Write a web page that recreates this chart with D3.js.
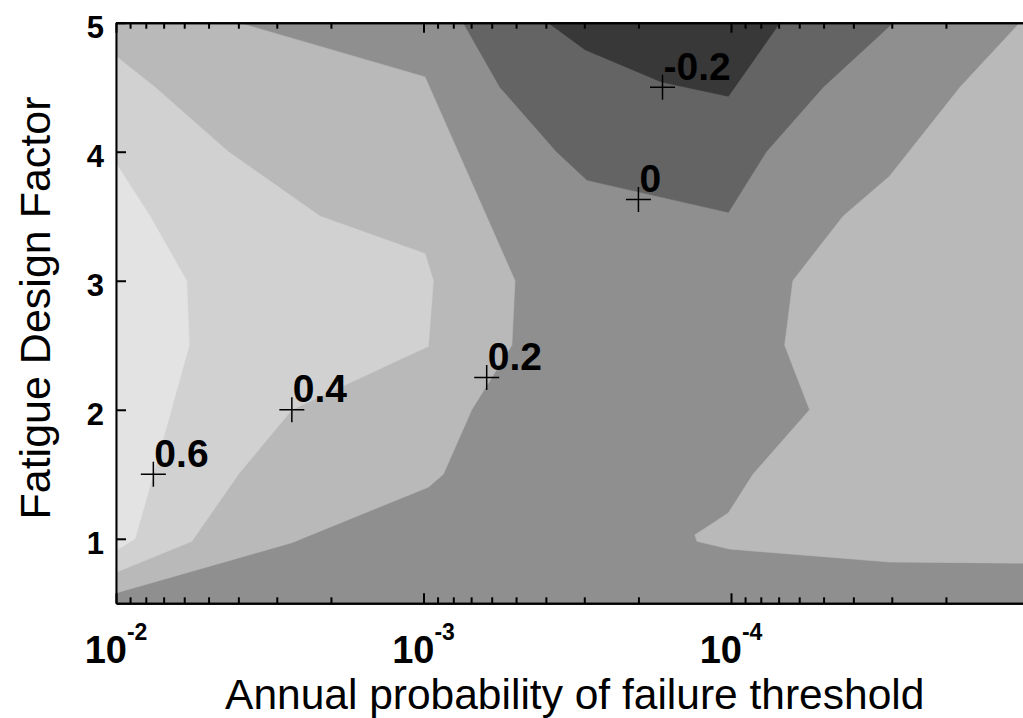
<!DOCTYPE html>
<html>
<head>
<meta charset="utf-8">
<script src="https://cdn.jsdelivr.net/npm/d3@7"></script>
<style>
  body { margin: 0; background: #fff; }
  svg { display: block; font-family: 'Liberation Sans', Arial, Helvetica, sans-serif; }
  .axis path, .axis line { stroke: #000; stroke-width: 2; }
</style>
</head>
<body>
<svg id="chart"></svg>
<script>
// axes
const xDomain = [1e-2, 1e-5]
const yDomain = [0.5, 5]
const xMajor = [1e-2, 1e-3, 1e-4]
const xExponents = ['-2', '-3', '-4']
const yTicks = [1, 2, 3, 4, 5]

// contour lines as [annual probability, fatigue design factor]
const c06 = [[1e-2, 3.91], [7.75e-3, 3.5], [5.89e-3, 3.0], [5.78e-3, 2.5], [7.56e-3, 1.5], [8.67e-3, 1.0], [1e-2, 0.91]]
const c04 = [[1e-2, 4.74], [7.47e-3, 4.5], [4.31e-3, 4.0], [2.17e-3, 3.5], [9.89e-4, 3.21], [9.29e-4, 3.0],
  [9.65e-4, 2.49], [9.89e-4, 2.48], [2.68e-3, 2.0], [4.0e-3, 1.5], [5.67e-3, 0.98], [1e-2, 0.74]]
const c02Left = [[4.0e-3, 5], [9.89e-4, 4.58], [5.04e-4, 3.0], [5.16e-4, 2.5], [6.97e-4, 2.0], [8.62e-4, 1.5],
  [9.65e-4, 1.4], [2.68e-3, 0.97], [1e-2, 0.58]]
const c02Right = [[1.15e-5, 5], [1.8e-5, 4.5], [3.05e-5, 3.81], [4.32e-5, 3.5], [6.29e-5, 3.0], [6.69e-5, 2.5],
  [5.55e-5, 2.0], [8.48e-5, 1.5], [1.02e-4, 1.2], [1.31e-4, 1.03], [1.29e-4, 0.98], [1.01e-4, 0.92],
  [3.05e-5, 0.82], [1e-5, 0.81]]
const c00 = [[7.42e-4, 5], [5.64e-4, 4.5], [3.69e-4, 4.0], [2.94e-4, 3.78], [1.02e-4, 3.53], [7.68e-5, 4.0],
  [5.02e-5, 4.5], [2.97e-5, 5]]
const cm02 = [[3.93e-4, 5], [2.98e-4, 4.79], [1.68e-4, 4.54], [1.02e-4, 4.43], [6.93e-5, 5]]

// contour labels
const labelText = ['0.6', '0.4', '0.2', '0', '-0.2']
const labelAt = [[7.56e-3, 1.5], [2.68e-3, 2.0], [6.23e-4, 2.25], [2.0e-4, 3.63], [1.67e-4, 4.5]]

const width = 1023
const height = 718
const margin = { top: 22.7, left: 116 }
const plotW = 922.5
const plotH = 580.6

const svg = d3.select('#chart')
  .attr('width', width)
  .attr('height', height)

const x = d3.scaleLog()
  .domain(xDomain)
  .range([margin.left, margin.left + plotW])

const y = d3.scaleLinear()
  .domain(yDomain)
  .range([margin.top + plotH, margin.top])

const [x0, x1] = xDomain
const [y0, y1] = yDomain

// filled bands, painted from the middle level outwards
const regions = [
  { fill: '#8f8f8f', pts: [[x0, y0], [x0, y1], [x1, y1], [x1, y0]] },
  { fill: '#b9b9b9', pts: [[x0, y1], ...c02Left] },
  { fill: '#b9b9b9', pts: [...c02Right, [x1, y1]] },
  { fill: '#d1d1d1', pts: c04 },
  { fill: '#e3e3e3', pts: c06 },
  { fill: '#646464', pts: c00 },
  { fill: '#383838', pts: cm02 }
]

const line = d3.line()
  .x(d => x(d[0]))
  .y(d => y(d[1]))

svg.append('g')
  .selectAll('path')
  .data(regions)
  .join('path')
  .attr('d', d => line(d.pts) + 'Z')
  .attr('fill', d => d.fill)
  .attr('stroke', d => d.fill)
  .attr('stroke-width', 0.6)

// axes with inward ticks
const isMajor = v => Math.abs(Math.log10(v) - Math.round(Math.log10(v))) < 1e-9
const xMinor = x.ticks().filter(v => !isMajor(v))

const axisB = svg.append('g')
  .attr('class', 'axis')
  .attr('transform', `translate(0, ${y(y0)})`)
axisB.append('g').call(d3.axisBottom(x).tickValues(xMinor).tickSize(-6).tickSizeOuter(0).tickFormat(''))
axisB.append('g').call(d3.axisBottom(x).tickValues(xMajor).tickSize(-10).tickSizeOuter(0).tickFormat(''))

const axisT = svg.append('g')
  .attr('class', 'axis')
  .attr('transform', `translate(0, ${y(y1)})`)
axisT.append('g').call(d3.axisTop(x).tickValues(xMinor).tickSize(-6).tickSizeOuter(0).tickFormat(''))
axisT.append('g').call(d3.axisTop(x).tickValues(xMajor).tickSize(-10).tickSizeOuter(0).tickFormat(''))

const axisL = svg.append('g')
  .attr('class', 'axis')
  .attr('transform', `translate(${x(x0)}, 0)`)
  .call(d3.axisLeft(y).tickValues(yTicks).tickSize(-10).tickSizeOuter(0).tickPadding(12).tickFormat(d3.format('d')))

axisL.selectAll('text')
  .attr('font-size', 31)
  .attr('font-weight', 'bold')
  .attr('font-family', null)
  .attr('dy', '0.48em')

// 10^n labels
const xLab = svg.append('g')
  .selectAll('text')
  .data(xMajor)
  .join('text')
  .attr('x', d => x(d))
  .attr('y', y(y0) + 59.4)
  .attr('text-anchor', 'middle')
  .attr('font-weight', 'bold')

xLab.append('tspan')
  .attr('font-size', 38)
  .text('10')
xLab.append('tspan')
  .attr('font-size', 23)
  .attr('dy', -22.7)
  .text((d, i) => xExponents[i])

// axis titles
svg.append('text')
  .attr('x', 574.7)
  .attr('y', 709)
  .attr('text-anchor', 'middle')
  .attr('font-size', 42.5)
  .text('Annual probability of failure threshold')

svg.append('text')
  .attr('transform', 'translate(50, 308) rotate(-90)')
  .attr('text-anchor', 'middle')
  .attr('font-size', 43)
  .text('Fatigue Design Factor')

// contour labels with + markers
const marks = svg.append('g')
  .selectAll('g')
  .data(labelAt)
  .join('g')
  .attr('transform', d => `translate(${x(d[0])}, ${y(d[1])})`)

marks.append('path')
  .attr('d', 'M-12.5,0H12.5M0,-12.5V12.5')
  .attr('stroke', '#000')
  .attr('stroke-width', 1.5)

marks.append('text')
  .attr('x', 1)
  .attr('y', -7.5)
  .attr('font-size', 39)
  .attr('font-weight', 'bold')
  .text((d, i) => labelText[i])
</script>
</body>
</html>
